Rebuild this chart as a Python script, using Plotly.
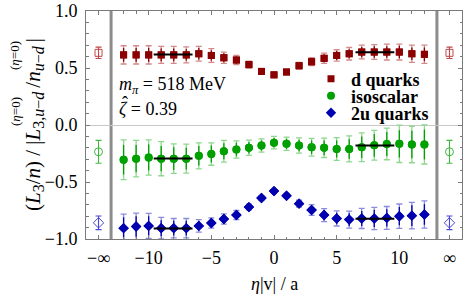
import plotly.graph_objects as go

# ---------------- data ----------------
eta = list(range(-12, 13))

d_vals = [0.615, 0.615, 0.615, 0.615, 0.615, 0.615, 0.625, 0.61, 0.59, 0.57, 0.53, 0.47, 0.44,
          0.465, 0.52, 0.555, 0.585, 0.61, 0.625, 0.64, 0.64, 0.64, 0.64, 0.625, 0.62]
d_err_tot = [0.08, 0.08, 0.08, 0.075, 0.075, 0.07, 0.065, 0.06, 0.05, 0.04, 0.03, 0.02, 0.015,
             0.02, 0.03, 0.035, 0.045, 0.05, 0.055, 0.06, 0.065, 0.07, 0.07, 0.075, 0.08]
d_err_stat = [0.06, 0.06, 0.06, 0.055, 0.055, 0.05, 0.05, 0.045, 0.04, 0.03, 0.02, 0.015, 0.01,
              0.015, 0.02, 0.025, 0.035, 0.04, 0.04, 0.045, 0.05, 0.05, 0.055, 0.055, 0.06]

iso_vals = [-0.305, -0.295, -0.285, -0.295, -0.295, -0.295, -0.27, -0.255, -0.23, -0.215, -0.2, -0.18, -0.155,
            -0.165, -0.18, -0.195, -0.2, -0.21, -0.21, -0.195, -0.178, -0.166, -0.165, -0.171, -0.171]
iso_err_tot = [0.175, 0.16, 0.155, 0.15, 0.13, 0.127, 0.114, 0.098, 0.095, 0.076, 0.067, 0.058, 0.055,
               0.058, 0.067, 0.078, 0.085, 0.1, 0.114, 0.126, 0.13, 0.139, 0.164, 0.16, 0.171]
iso_err_stat = [0.13, 0.12, 0.115, 0.11, 0.1, 0.095, 0.085, 0.075, 0.07, 0.06, 0.05, 0.045, 0.04,
                0.045, 0.05, 0.06, 0.065, 0.075, 0.085, 0.095, 0.1, 0.105, 0.12, 0.12, 0.13]

u2_vals = [-0.905, -0.89, -0.885, -0.905, -0.905, -0.905, -0.885, -0.86, -0.825, -0.79, -0.72, -0.64, -0.58,
           -0.62, -0.69, -0.745, -0.79, -0.82, -0.83, -0.82, -0.82, -0.815, -0.80, -0.795, -0.785]
u2_err_tot = [0.124, 0.117, 0.11, 0.095, 0.085, 0.085, 0.055, 0.045, 0.045, 0.04, 0.025, 0.02, 0.015,
              0.02, 0.03, 0.047, 0.057, 0.066, 0.075, 0.088, 0.098, 0.1, 0.107, 0.117, 0.12]
u2_err_stat = [0.095, 0.09, 0.085, 0.07, 0.065, 0.065, 0.04, 0.035, 0.035, 0.03, 0.02, 0.015, 0.01,
               0.015, 0.02, 0.035, 0.045, 0.05, 0.055, 0.065, 0.075, 0.075, 0.08, 0.09, 0.09]

# eta -> +-infinity points
inf_x = [-14, 14]
d_inf = [0.633, 0.633]
d_inf_err = [0.05, 0.05]
iso_inf = [-0.235, -0.235]
iso_inf_err = [0.1, 0.1]
u2_inf = [-0.858, -0.858]
u2_inf_err = [0.06, 0.06]

# plateau fits
fit_left = [-9.6, -6.5]
fit_right = [6.5, 9.6]
d_fit = [0.618, 0.639]
iso_fit = [-0.294, -0.18]
u2_fit = [-0.908, -0.823]

x_tickvals = [-14, -10, -5, 0, 5, 10, 14]
x_ticktext = ["\u2212\u221e", "\u221210", "\u22125", "0", "5", "10", "\u221e"]
y_tickvals = [-1.0, -0.5, 0.0, 0.5, 1.0]
y_ticktext = ["\u22121.0", "\u22120.5", "0.0", "0.5", "1.0"]

# ---------------- layout geometry ----------------
W, H = 463, 295
L, R, T, B = 86, 1, 11, 56
PW, PH = W - L - R, H - T - B


def px(x):
    return (x - L) / PW


def py(y):
    return (H - B - y) / PH


FONT = "Liberation Serif"

series = [
    dict(name="d quarks", vals=d_vals, tot=d_err_tot, stat=d_err_stat, sym="square", size=7,
         col="#8b0000", light="#d48a8a", inf=d_inf, inferr=d_inf_err, infcol="#c04848",
         fit=d_fit, legend="legend"),
    dict(name="isoscalar", vals=iso_vals, tot=iso_err_tot, stat=iso_err_stat, sym="circle", size=8,
         col="#00a000", light="#8fd68f", inf=iso_inf, inferr=iso_inf_err, infcol="#40b840",
         fit=iso_fit, legend="legend2"),
    dict(name="2u quarks", vals=u2_vals, tot=u2_err_tot, stat=u2_err_stat, sym="diamond", size=8,
         col="#0000b0", light="#8c8cdc", inf=u2_inf, inferr=u2_inf_err, infcol="#4848d8",
         fit=u2_fit, legend="legend3"),
]

fig = go.Figure()

for s in series:
    # total (light) error bars
    fig.add_trace(go.Scatter(
        x=eta, y=s["vals"], mode="markers", showlegend=False,
        marker=dict(symbol=s["sym"], size=s["size"], color=s["col"]),
        error_y=dict(type="data", array=s["tot"], color=s["light"], thickness=1.3, width=3),
    ))
    # statistical (dark) error bars + legend entry
    fig.add_trace(go.Scatter(
        x=eta, y=s["vals"], mode="markers", name=s["name"], legend=s["legend"],
        marker=dict(symbol=s["sym"], size=s["size"], color=s["col"]),
        error_y=dict(type="data", array=s["stat"], color=s["col"], thickness=1.3, width=0),
    ))
    # infinity points
    fig.add_trace(go.Scatter(
        x=inf_x, y=s["inf"], mode="markers", showlegend=False,
        marker=dict(symbol=s["sym"] + "-open", size=s["size"], color=s["infcol"], line=dict(width=1)),
        error_y=dict(type="data", array=s["inferr"], color=s["infcol"], thickness=1.1, width=3),
    ))

for s in series:
    for rng, v in ((fit_left, s["fit"][0]), (fit_right, s["fit"][1])):
        fig.add_trace(go.Scatter(x=rng, y=[v, v], mode="lines", showlegend=False,
                                 line=dict(color="black", width=2)))

# gray separators for eta -> infinity
for xv in (-13, 13):
    fig.add_shape(type="line", xref="x", yref="paper", x0=xv, x1=xv, y0=0, y1=1,
                  line=dict(color="#8c8c8c", width=3), layer="below")

axis_common = dict(showline=True, linecolor="#7a7a7a", linewidth=1, mirror="allticks",
                   ticks="inside", tickcolor="#7a7a7a", showgrid=False,
                   tickfont=dict(family=FONT, size=18, color="black"))

fig.update_xaxes(range=[-15, 15], tickmode="array", tickvals=x_tickvals, ticktext=x_ticktext,
                 ticklen=4, zeroline=False, ticklabelstandoff=2,
                 minor=dict(tickvals=eta, ticklen=2.5, ticks="inside", tickcolor="#7a7a7a"),
                 **axis_common)
fig.update_yaxes(range=[-1, 1], tickmode="array", tickvals=y_tickvals, ticktext=y_ticktext,
                 ticklen=4, zeroline=True, zerolinecolor="#c8c8c8", zerolinewidth=1,
                 ticklabelstandoff=4,
                 minor=dict(dtick=0.1, ticklen=2.5, ticks="inside", tickcolor="#7a7a7a"),
                 **axis_common)

legend_style = dict(font=dict(family=FONT, size=18, color="black", weight="bold"),
                    bgcolor="rgba(0,0,0,0)", borderwidth=0, xanchor="left", yanchor="middle",
                    itemclick=False, itemdoubleclick=False)
lx = px(311)
fig.update_layout(
    legend=dict(x=lx, y=py(79), **legend_style),
    legend2=dict(x=lx, y=py(96), **legend_style),
    legend3=dict(x=lx, y=py(113), **legend_style),
)

ann_font = dict(family=FONT, size=18, color="black")
sup_font = dict(family=FONT, size=13, color="black")
SUB = '<sub><span style="font-size:16px">{}</span></sub>'
ytitle = ("(<i>L</i>" + SUB.format("3") + "/<i>n</i>) / |<i>L</i>"
          + SUB.format("3,<i>u</i>\u2212<i>d</i>\u00a0") + "/<i>n</i>"
          + SUB.format("<i>u</i>\u2212<i>d</i>\u00a0") + "|")
annotations = [
    dict(text="<i>m</i><sub><i>\u03c0</i></sub> = 518 MeV", x=px(117), y=py(85),
         xanchor="left", yanchor="middle"),
    dict(text="<i>\u03b6</i> = 0.39", x=px(117), y=py(109),
         xanchor="left", yanchor="middle"),
    dict(text="\u02c6", x=px(125), y=py(103), xanchor="center", yanchor="middle"),
    dict(text="<i>\u03b7</i>|v| / a", x=px(274), y=py(284), xanchor="center", yanchor="middle"),
    dict(text=ytitle, x=px(34), y=py(125), xanchor="center", yanchor="middle", textangle=-90,
         font=dict(family=FONT, size=21, color="black")),
    dict(text="(<i>\u03b7</i>=0)", x=px(15), y=py(112), xanchor="center", yanchor="middle",
         textangle=-90, font=sup_font),
    dict(text="(<i>\u03b7</i>=0)", x=px(15), y=py(56), xanchor="center", yanchor="middle",
         textangle=-90, font=sup_font),
]
for a in annotations:
    a.setdefault("font", ann_font)
    a.update(xref="paper", yref="paper", showarrow=False)

fig.update_layout(
    width=W, height=H, margin=dict(l=L, r=R, t=T, b=B, autoexpand=False),
    paper_bgcolor="white", plot_bgcolor="white",
    annotations=annotations,
    font=dict(family=FONT, size=18, color="black"),
)

fig.write_html("out.html", config={"displayModeBar": False},
               post_script="document.body.style.margin='0px';document.body.style.overflow='hidden';")
